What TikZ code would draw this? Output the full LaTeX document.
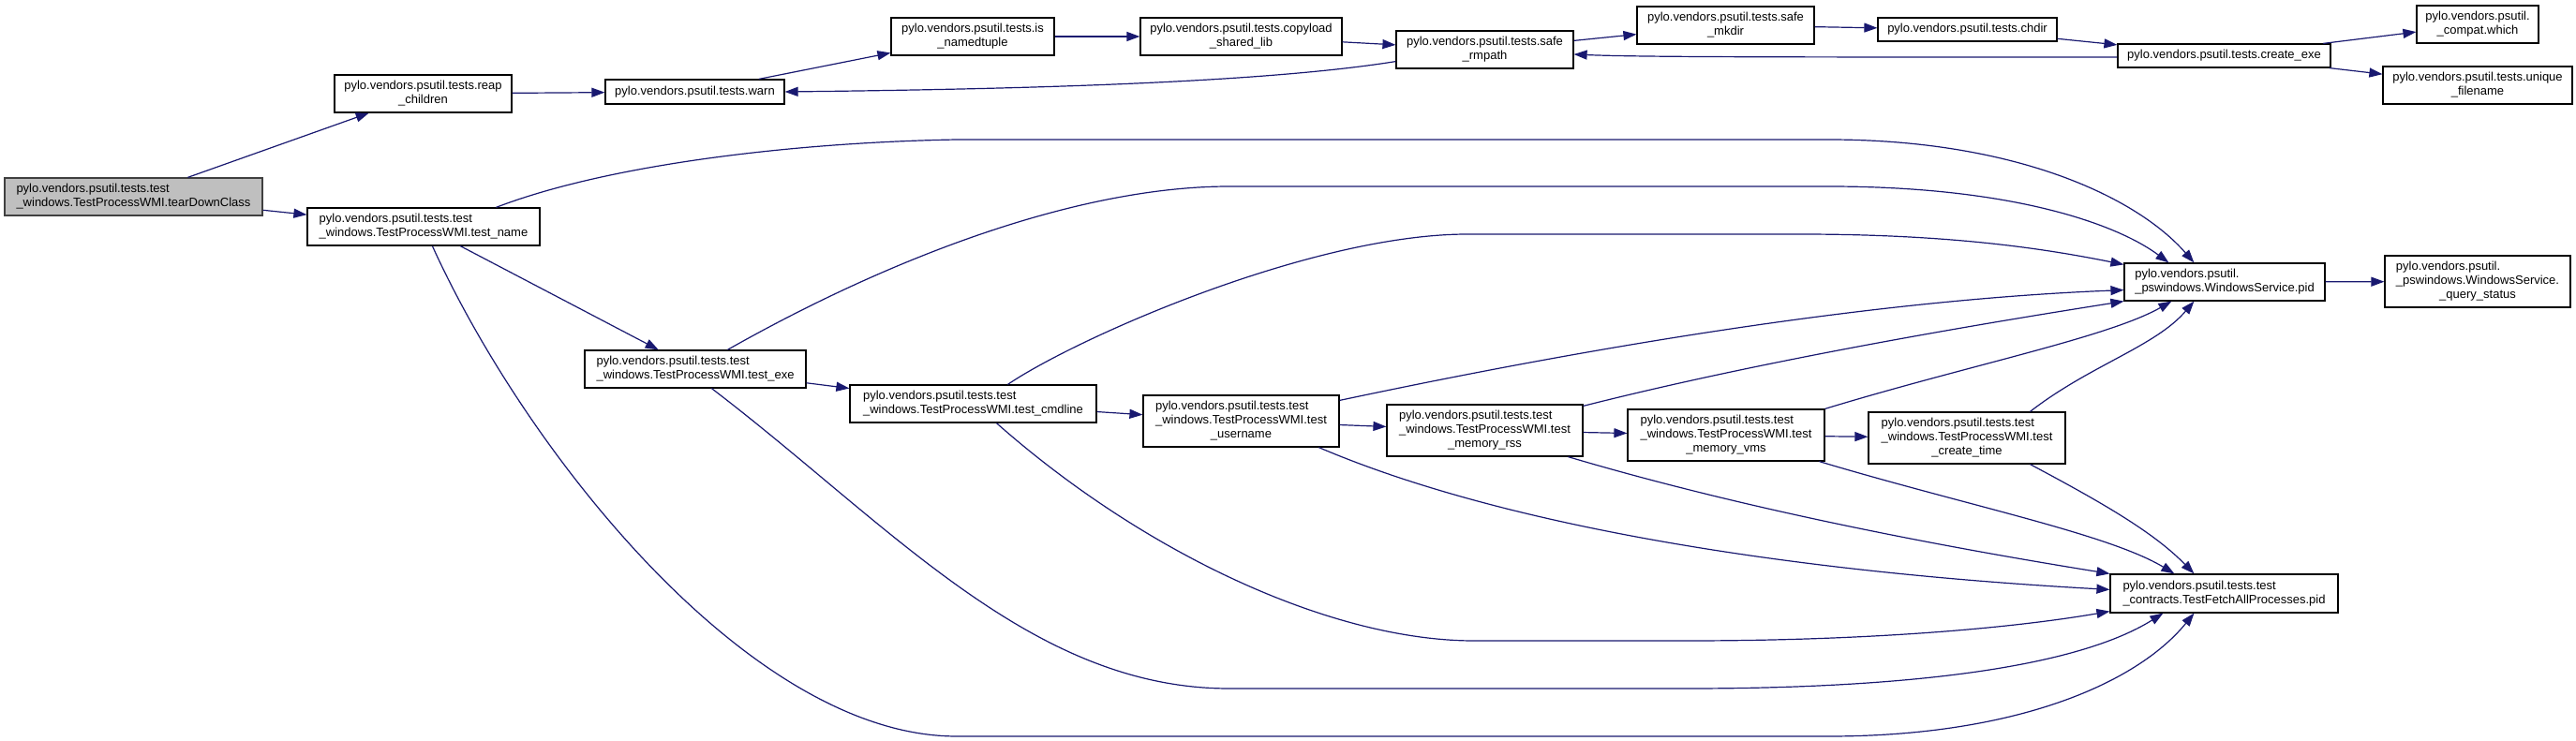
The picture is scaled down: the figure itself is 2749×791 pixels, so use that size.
\documentclass[tikz,border=0pt]{standalone}
\usepackage{fontspec}
\setmainfont{Liberation Sans}
\usetikzlibrary{arrows.meta,calc}
\definecolor{edgec}{RGB}{25,25,112}
\newcommand\Ltwo[2]{\begin{tabular}{@{}l@{}}#1\\\multicolumn{1}{@{}c@{}}{#2}\end{tabular}}
\newcommand\Lthree[3]{\begin{tabular}{@{}l@{}}#1\\#2\\\multicolumn{1}{@{}c@{}}{#3}\end{tabular}}
\begin{document}
\begin{tikzpicture}[x=1pt,y=-1pt,
  box/.style={draw=black, line width=1.2pt, fill=white, inner sep=0pt, font=\fontsize{13}{15}\selectfont},
  e/.style={draw=edgec, line width=1.2pt, -{Triangle[length=14pt,width=10pt]}}]
\fill[white] (0,0) rectangle (2749,791);
\useasboundingbox (0,0) rectangle (2749,791);
% nodes
\node[box,fill=gray!50,draw=black!75,minimum width=275pt,minimum height=40pt] (tdc) at (142.5,210) {\Ltwo{pylo.vendors.psutil.tests.test}{\_windows.TestProcessWMI.tearDownClass}};
\node[box,minimum width=189pt,minimum height=40pt] (reap) at (451.5,100) {\Ltwo{pylo.vendors.psutil.tests.reap}{\_children}};
\node[box,minimum width=191pt,minimum height=26pt] (warn) at (741.5,98) {pylo.vendors.psutil.tests.warn};
\node[box,minimum width=174pt,minimum height=40pt] (isnt) at (1038,39) {\Ltwo{pylo.vendors.psutil.tests.is}{\_namedtuple}};
\node[box,minimum width=215pt,minimum height=40pt] (copy) at (1324.5,39) {\Ltwo{pylo.vendors.psutil.tests.copyload}{\_shared\_lib}};
\node[box,minimum width=189pt,minimum height=40pt] (rmpath) at (1584.5,53) {\Ltwo{pylo.vendors.psutil.tests.safe}{\_rmpath}};
\node[box,minimum width=189pt,minimum height=40pt] (mkdir) at (1841.5,27) {\Ltwo{pylo.vendors.psutil.tests.safe}{\_mkdir}};
\node[box,minimum width=191pt,minimum height=25pt] (chdir) at (2099.5,31.5) {pylo.vendors.psutil.tests.chdir};
\node[box,minimum width=227pt,minimum height=25pt] (cexe) at (2373.5,59.5) {pylo.vendors.psutil.tests.create\_exe};
\node[box,minimum width=130pt,minimum height=40pt] (which) at (2644,26) {\Ltwo{pylo.vendors.psutil.}{\_compat.which}};
\node[box,minimum width=202pt,minimum height=40pt] (uniq) at (2644,91) {\Ltwo{pylo.vendors.psutil.tests.unique}{\_filename}};
\node[box,minimum width=248pt,minimum height=40pt] (tname) at (452,242) {\Ltwo{pylo.vendors.psutil.tests.test}{\_windows.TestProcessWMI.test\_name}};
\node[box,minimum width=236pt,minimum height=40pt] (texe) at (742,394) {\Ltwo{pylo.vendors.psutil.tests.test}{\_windows.TestProcessWMI.test\_exe}};
\node[box,minimum width=263pt,minimum height=40pt] (tcmd) at (1038.5,431) {\Ltwo{pylo.vendors.psutil.tests.test}{\_windows.TestProcessWMI.test\_cmdline}};
\node[box,minimum width=209pt,minimum height=55pt] (tuser) at (1324.5,449.5) {\Lthree{pylo.vendors.psutil.tests.test}{\_windows.TestProcessWMI.test}{\_username}};
\node[box,minimum width=209pt,minimum height=55pt] (trss) at (1584.5,459.5) {\Lthree{pylo.vendors.psutil.tests.test}{\_windows.TestProcessWMI.test}{\_memory\_rss}};
\node[box,minimum width=210pt,minimum height=55pt] (tvms) at (1842,464.5) {\Lthree{pylo.vendors.psutil.tests.test}{\_windows.TestProcessWMI.test}{\_memory\_vms}};
\node[box,minimum width=210pt,minimum height=55pt] (tct) at (2099,467.5) {\Lthree{pylo.vendors.psutil.tests.test}{\_windows.TestProcessWMI.test}{\_create\_time}};
\node[box,minimum width=214pt,minimum height=40pt] (wspid) at (2374,301) {\Ltwo{pylo.vendors.psutil.}{\_pswindows.WindowsService.pid}};
\node[box,minimum width=198pt,minimum height=55pt] (query) at (2644,300.5) {\Lthree{pylo.vendors.psutil.}{\_pswindows.WindowsService.}{\_query\_status}};
\node[box,minimum width=243pt,minimum height=41pt] (fetch) at (2373.5,633.5) {\Ltwo{pylo.vendors.psutil.tests.test}{\_contracts.TestFetchAllProcesses.pid}};
% straight edges
\draw[e] (tdc) -- (reap);
\draw[e] (tdc) -- (tname);
\draw[e] (reap) -- (warn);
\draw[e] (warn) -- (isnt);
\draw[e] (isnt) -- (copy);
\draw[e] (copy) -- (rmpath);
\draw[e] ($(rmpath.south west)+(0,-8)$) .. controls (1350,88) and (1100,95) .. (warn.east);
\draw[e] (rmpath) -- (mkdir);
\draw[e] (mkdir) -- (chdir);
\draw[e] (chdir) -- (cexe);
\draw[e] ($(cexe.west)+(0,1.5)$) .. controls (1900,61) and (1750,61) .. ($(rmpath.east)+(0,5)$);
\draw[e] (cexe) -- (which);
\draw[e] (cexe) -- (uniq);
\draw[e] (wspid) -- (query);
\draw[e] (tname) -- (texe);
\draw[e] (texe) -- (tcmd);
\draw[e] (tcmd) -- (tuser);
\draw[e] (tuser) -- (trss);
\draw[e] (trss) -- (tvms);
\draw[e] (tvms) -- (tct);
% to WindowsService.pid
\draw[e] ($(tname.north west)+(202,0)$) .. controls (650,175) and (850,152) .. (1021,149) -- (1951,149) .. controls (2150,149) and (2280,210) .. ($(wspid.north west)+(75,0)$);
\draw[e] ($(texe.north west)+(153,0)$) .. controls (950,275) and (1150,199) .. (1312,199) -- (1951,199) .. controls (2150,199) and (2260,240) .. ($(wspid.north west)+(48,0)$);
\draw[e] ($(tcmd.north west)+(169,0)$) .. controls (1150,360) and (1400,250) .. (1566,250) -- (1921,250) .. controls (2080,250) and (2180,265) .. ($(wspid.north west)+(0,2)$);
\draw[e] ($(tuser.north east)+(0,6)$) .. controls (1700,370) and (2000,320) .. ($(wspid.south west)+(0,-12)$);
\draw[e] ($(trss.north east)+(0,2)$) .. controls (1900,380) and (2150,340) .. (wspid.south west);
\draw[e] (tvms.north east) .. controls (2100,390) and (2250,360) .. ($(wspid.south west)+(51,0)$);
\draw[e] ($(tct.north west)+(173,0)$) .. controls (2230,390) and (2300,370) .. ($(wspid.south west)+(75,0)$);
% to TestFetchAllProcesses.pid
\draw[e] ($(tname.south west)+(134,0)$) .. controls (560,480) and (800,786) .. (1021,786) -- (1951,786) .. controls (2150,786) and (2280,730) .. ($(fetch.south west)+(90,0)$);
\draw[e] ($(texe.south west)+(136,0)$) .. controls (950,560) and (1100,735) .. (1312,735) -- (1800,735) .. controls (2050,735) and (2220,710) .. ($(fetch.south west)+(57,0)$);
\draw[e] ($(tcmd.south west)+(157,0)$) .. controls (1220,590) and (1420,684) .. (1573,684) -- (1800,684) .. controls (2000,684) and (2150,670) .. ($(fetch.south west)+(0,-2)$);
\draw[e] ($(tuser.south west)+(188,0)$) .. controls (1600,560) and (1900,610) .. ($(fetch.north west)+(0,17)$);
\draw[e] ($(trss.south west)+(194,0)$) .. controls (1850,540) and (2050,580) .. (fetch.north west);
\draw[e] ($(tvms.south west)+(205,0)$) .. controls (2100,540) and (2250,570) .. ($(fetch.north west)+(69,0)$);
\draw[e] ($(tct.south west)+(173,0)$) .. controls (2250,540) and (2300,570) .. ($(fetch.north west)+(90,0)$);
\end{tikzpicture}
\end{document}
